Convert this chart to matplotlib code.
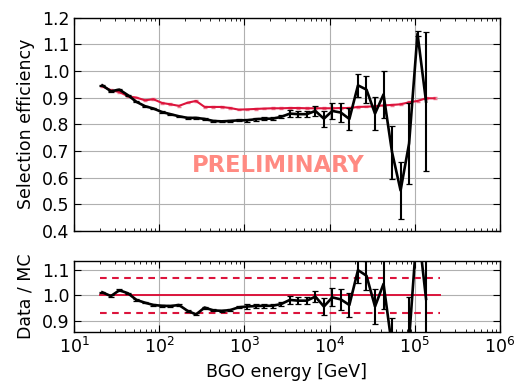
import numpy as np
import matplotlib
matplotlib.use("Agg")
import matplotlib.pyplot as plt
from matplotlib.ticker import LogLocator, NullFormatter, FixedLocator, FormatStrFormatter

# ---------------- data ----------------
energy = [21.5, 27.1, 34.1, 43.0, 54.1, 68.1, 85.7, 107.6, 135.5, 170.6,
          215.3, 271.0, 341.2, 429.5, 540.8, 680.8, 857.0, 1076, 1355, 1706,
          2153, 2710, 3412, 4295, 5408, 6808, 8570, 10760, 13550, 17060,
          21530, 27100, 34120, 42950, 54080, 68080, 85700, 107600, 135500, 170600]

# flight data (black), 39 bins
eff_data = [0.946, 0.924, 0.930, 0.909, 0.884, 0.868, 0.859, 0.846, 0.838, 0.830,
            0.824, 0.824, 0.820, 0.8125, 0.811, 0.8125, 0.815, 0.815, 0.819, 0.821,
            0.821, 0.828, 0.840, 0.838, 0.838, 0.850, 0.821, 0.850, 0.844, 0.820,
            0.946, 0.930, 0.840, 0.912, 0.695, 0.552, 0.728, 1.140, 0.885]
eff_data_err = [0.002, 0.002, 0.002, 0.002, 0.002, 0.002, 0.002, 0.002, 0.002, 0.002,
                0.003, 0.003, 0.003, 0.003, 0.003, 0.003, 0.003, 0.006, 0.006, 0.006,
                0.006, 0.006, 0.012, 0.012, 0.012, 0.020, 0.030, 0.030, 0.035, 0.040,
                0.043, 0.051, 0.061, 0.087, 0.100, 0.108, 0.153, 0.010, 0.262]

# Monte Carlo (red), 40 bins
eff_mc = [0.9425, 0.9275, 0.921, 0.905, 0.900, 0.890, 0.894, 0.880, 0.875, 0.869,
          0.881, 0.8875, 0.865, 0.865, 0.865, 0.861, 0.855, 0.856, 0.8575, 0.859,
          0.860, 0.860, 0.861, 0.861, 0.860, 0.860, 0.860, 0.860, 0.861, 0.861,
          0.865, 0.866, 0.8675, 0.871, 0.8725, 0.875, 0.8825, 0.8875, 0.8975, 0.8975]
eff_mc_err = [0.003] * 40

# Data / MC ratio, 39 bins
ratio = [1.012, 0.997, 1.020, 1.008, 0.982, 0.971, 0.962, 0.959, 0.958, 0.962,
         0.939, 0.925, 0.952, 0.941, 0.939, 0.942, 0.953, 0.956, 0.958, 0.959,
         0.959, 0.966, 0.982, 0.979, 0.979, 0.995, 0.956, 0.992, 0.984, 0.962,
         1.099, 1.077, 0.956, 1.045, 0.797, 0.630, 0.825, 1.285, 0.986]
ratio_err = [0.003, 0.003, 0.003, 0.003, 0.003, 0.003, 0.003, 0.003, 0.003, 0.003,
             0.004, 0.004, 0.004, 0.004, 0.004, 0.004, 0.004, 0.008, 0.008, 0.008,
             0.008, 0.008, 0.015, 0.015, 0.015, 0.022, 0.035, 0.035, 0.040, 0.046,
             0.050, 0.058, 0.070, 0.100, 0.115, 0.125, 0.170, 0.020, 0.290]

ratio_ref = 1.0
ratio_band = [0.93, 1.07]
ratio_range = [20, 2e5]

xtick_vals = [1e1, 1e2, 1e3, 1e4, 1e5, 1e6]
xtick_labels = [r"$10^{1}$", r"$10^{2}$", r"$10^{3}$", r"$10^{4}$", r"$10^{5}$", r"$10^{6}$"]
top_yticks = [0.4, 0.5, 0.6, 0.7, 0.8, 0.9, 1.0, 1.1, 1.2]
bot_yticks = [0.9, 1.0, 1.1]

# ---------------- style ----------------
RED = "#dc143c"
FS = 12.5
plt.rcParams["font.family"] = ["DejaVu Sans"]
plt.rcParams["font.size"] = FS

fig = plt.figure(figsize=(5.16, 3.83), dpi=100)
ax1 = fig.add_axes([0.1434, 0.397, 0.8256, 0.557])
ax2 = fig.add_axes([0.1434, 0.1332, 0.8256, 0.1861])

def style(ax):
    ax.set_xscale("log")
    ax.set_xlim(1e1, 1e6)
    ax.grid(True, which="major", color="#b0b0b0", lw=0.8, ls="-")
    ax.set_axisbelow(True)
    ax.tick_params(which="both", direction="in", top=True, right=True, labelsize=FS)
    ax.tick_params(which="major", length=5, width=0.8)
    ax.tick_params(which="minor", length=2.5, width=0.6)
    ax.xaxis.set_major_locator(FixedLocator(xtick_vals))
    ax.xaxis.set_minor_locator(LogLocator(base=10, subs=np.arange(2, 10)))
    ax.xaxis.set_minor_formatter(NullFormatter())
    for s in ax.spines.values():
        s.set_linewidth(1.0)

# ---- top panel ----
style(ax1)
ax1.errorbar(energy, eff_mc, yerr=eff_mc_err, color=RED, ecolor="#f07a90",
             lw=1.5, elinewidth=1.0, capsize=1.5, zorder=3)
ax1.errorbar(energy[:len(eff_data)], eff_data, yerr=eff_data_err, color="black",
             lw=1.9, elinewidth=1.5, capsize=2.0, capthick=0.9, zorder=4)
ax1.set_ylim(0.4, 1.2)
ax1.yaxis.set_major_locator(FixedLocator(top_yticks))
ax1.yaxis.set_major_formatter(FormatStrFormatter("%.1f"))
ax1.set_xticklabels([])
ax1.set_ylabel("Selection efficiency", fontsize=FS, labelpad=5)
ax1.text(2.5e3, 0.645, "PRELIMINARY", color="#ff8a82", fontsize=16.3,
         fontweight="bold", ha="center", va="center", zorder=2)

# ---- bottom panel ----
style(ax2)
ax2.plot(ratio_range, [ratio_ref, ratio_ref], color=RED, lw=1.4, zorder=3)
for b in ratio_band:
    ax2.plot(ratio_range, [b, b], color=RED, lw=1.5, ls=(0, (3.2, 2.6)), zorder=3)
ax2.errorbar(energy[:len(ratio)], ratio, yerr=ratio_err, color="black",
             lw=1.9, elinewidth=1.5, capsize=2.0, capthick=0.9, zorder=4)
ax2.set_ylim(0.856, 1.136)
ax2.yaxis.set_major_locator(FixedLocator(bot_yticks))
ax2.yaxis.set_major_formatter(FormatStrFormatter("%.1f"))
ax2.set_xticklabels(xtick_labels)
ax2.set_xlabel("BGO energy [GeV]", fontsize=FS)
ax2.set_ylabel("Data / MC", fontsize=FS, labelpad=5)

fig.align_ylabels([ax1, ax2])
fig.savefig("out.png", dpi=100)
